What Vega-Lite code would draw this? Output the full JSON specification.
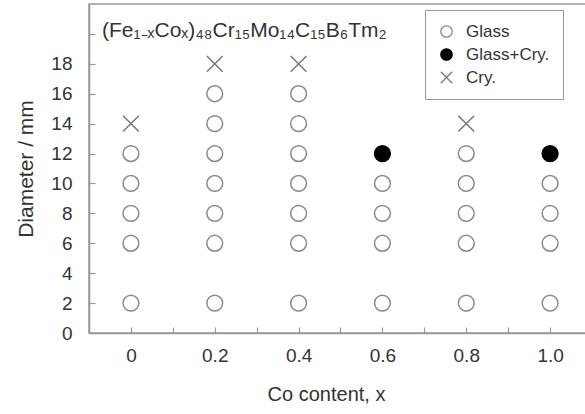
{
  "$schema": "https://vega.github.io/schema/vega-lite/v6.json",
  "width": 503,
  "height": 329,
  "autosize": "none",
  "padding": {"left": 89, "top": 4, "right": 0, "bottom": 81},
  "background": "white",
  "config": {
    "font": "Liberation Sans",
    "view": {"stroke": "#999999", "strokeWidth": 1.5},
    "axis": {
      "domainColor": "#999999",
      "domainWidth": 1.5,
      "tickColor": "#999999",
      "tickWidth": 1.2,
      "grid": false,
      "labelColor": "#333333",
      "labelFontSize": 19,
      "labelOverlap": false,
      "labelBound": false,
      "labelFlush": false,
      "titleColor": "#333333",
      "titleFontSize": 20,
      "titleFontWeight": "normal"
    }
  },
  "layer": [
    {
      "data": {
        "values": [
          {"x": 0, "d": 2, "phase": "Glass"},
          {"x": 0, "d": 6, "phase": "Glass"},
          {"x": 0, "d": 8, "phase": "Glass"},
          {"x": 0, "d": 10, "phase": "Glass"},
          {"x": 0, "d": 12, "phase": "Glass"},
          {"x": 0, "d": 14, "phase": "Cry."},
          {"x": 0.2, "d": 2, "phase": "Glass"},
          {"x": 0.2, "d": 6, "phase": "Glass"},
          {"x": 0.2, "d": 8, "phase": "Glass"},
          {"x": 0.2, "d": 10, "phase": "Glass"},
          {"x": 0.2, "d": 12, "phase": "Glass"},
          {"x": 0.2, "d": 14, "phase": "Glass"},
          {"x": 0.2, "d": 16, "phase": "Glass"},
          {"x": 0.2, "d": 18, "phase": "Cry."},
          {"x": 0.4, "d": 2, "phase": "Glass"},
          {"x": 0.4, "d": 6, "phase": "Glass"},
          {"x": 0.4, "d": 8, "phase": "Glass"},
          {"x": 0.4, "d": 10, "phase": "Glass"},
          {"x": 0.4, "d": 12, "phase": "Glass"},
          {"x": 0.4, "d": 14, "phase": "Glass"},
          {"x": 0.4, "d": 16, "phase": "Glass"},
          {"x": 0.4, "d": 18, "phase": "Cry."},
          {"x": 0.6, "d": 2, "phase": "Glass"},
          {"x": 0.6, "d": 6, "phase": "Glass"},
          {"x": 0.6, "d": 8, "phase": "Glass"},
          {"x": 0.6, "d": 10, "phase": "Glass"},
          {"x": 0.6, "d": 12, "phase": "Glass+Cry."},
          {"x": 0.8, "d": 2, "phase": "Glass"},
          {"x": 0.8, "d": 6, "phase": "Glass"},
          {"x": 0.8, "d": 8, "phase": "Glass"},
          {"x": 0.8, "d": 10, "phase": "Glass"},
          {"x": 0.8, "d": 12, "phase": "Glass"},
          {"x": 0.8, "d": 14, "phase": "Cry."},
          {"x": 1.0, "d": 2, "phase": "Glass"},
          {"x": 1.0, "d": 6, "phase": "Glass"},
          {"x": 1.0, "d": 8, "phase": "Glass"},
          {"x": 1.0, "d": 10, "phase": "Glass"},
          {"x": 1.0, "d": 12, "phase": "Glass+Cry."}
        ]
      },
      "mark": {"type": "point", "filled": true, "opacity": 1, "strokeWidth": 1.5, "size": 250},
      "encoding": {
        "x": {
          "field": "x",
          "type": "quantitative",
          "scale": {"domain": [-0.1, 1.1], "nice": false, "zero": false},
          "axis": {
            "title": "Co content, x",
            "values": [0, 0.1, 0.2, 0.3, 0.4, 0.5, 0.6, 0.7, 0.8, 0.9, 1.0],
            "tickCount": 30,
            "labelExpr": "datum.value == 0 ? '0' : (round(datum.value * 10) % 2 == 1 ? '' : format(datum.value, '.1f'))",
            "labelOverlap": false,
            "tickSize": -6,
            "labelPadding": 19,
            "titlePadding": 19,
            "titleX": 237
          }
        },
        "y": {
          "field": "d",
          "type": "quantitative",
          "scale": {"domain": [0, 22], "nice": false},
          "axis": {
            "title": "Diameter / mm",
            "titleFontSize": 21,
            "values": [0, 2, 4, 6, 8, 10, 12, 14, 16, 18, 20],
            "tickCount": 30,
            "labelExpr": "datum.value > 18 ? '' : datum.label",
            "labelOverlap": false,
            "tickSize": -6,
            "labelPadding": 23,
            "titlePadding": 14
          }
        },
        "shape": {
          "field": "phase",
          "type": "nominal",
          "scale": {"domain": ["Glass", "Glass+Cry.", "Cry."], "range": ["circle", "circle", "M-1,-1L1,1M-1,1L1,-1"]},
          "legend": {
            "title": null,
            "orient": "none",
            "legendX": 336,
            "legendY": 6,
            "strokeColor": "#999999",
            "padding": 13,
            "labelFontSize": 17,
            "labelColor": "#333333",
            "symbolSize": 130,
            "symbolStrokeWidth": 1.3,
            "rowPadding": 5,
            "labelOffset": 11,
            "encode": {
              "symbols": {
                "update": {
                  "size": {"signal": "datum.label == 'Cry.' ? 40 : 130"}
                }
              }
            }
          }
        },
        "fill": {
          "field": "phase",
          "type": "nominal",
          "scale": {"domain": ["Glass", "Glass+Cry.", "Cry."], "range": ["white", "#000000", "transparent"]}
        },
        "stroke": {
          "field": "phase",
          "type": "nominal",
          "scale": {"domain": ["Glass", "Glass+Cry.", "Cry."], "range": ["#8a8a8a", "#000000", "#777777"]}
        }
      }
    },
    {
      "data": {"values": [{"x": -0.069, "d": 19.8, "label": "(Fe₁₋ₓCoₓ)₄₈Cr₁₅Mo₁₄C₁₅B₆Tm₂"}]},
      "mark": {"type": "text", "align": "left", "baseline": "alphabetic", "fontSize": 21, "color": "#333333"},
      "encoding": {
        "x": {"field": "x", "type": "quantitative"},
        "y": {"field": "d", "type": "quantitative"},
        "text": {"field": "label"}
      }
    }
  ]
}
